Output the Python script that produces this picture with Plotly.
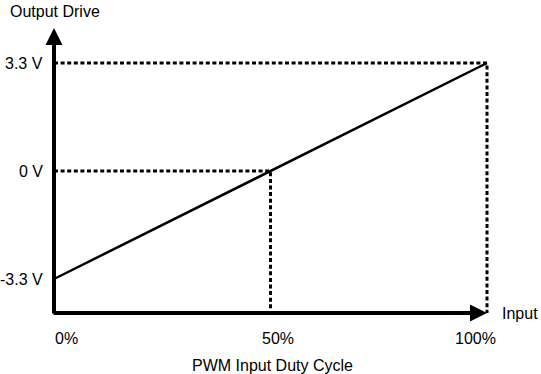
import plotly.graph_objects as go

# ---- data ----
duty_cycle = [0, 50, 100]          # PWM input duty cycle (%)
output_drive = [-3.3, 0, 3.3]      # output drive (V)
x_tick_labels = ["0%", "50%", "100%"]
y_tick_labels = ["-3.3 V", "0 V", "3.3 V"]

# ---- geometry (pixel canvas 541x374, margins 0) ----
W, H = 541, 374
X0_PX, X_SCALE = 54.0, 4.33      # pixel of duty 0, px per %
Y0_PX, Y_SCALE = 171.0, 32.727   # pixel of 0 V, px per volt

def px_to_x(px):
    return (px - X0_PX) / X_SCALE

def px_to_y(py):
    return (Y0_PX - py) / Y_SCALE

x_range = [px_to_x(0), px_to_x(W)]
y_range = [px_to_y(H), px_to_y(0)]
axis_bottom = px_to_y(313)   # where x-axis sits
axis_top = px_to_y(28)       # tip of y-axis arrow

FONT = "Liberation Sans, Arial, sans-serif"
INK = "#000000"

fig = go.Figure()

# dotted guide lines for the non-origin points
for d, v in zip(duty_cycle, output_drive):
    if d == 0:
        continue
    fig.add_trace(go.Scatter(
        x=[0, d, d], y=[v, v, axis_bottom],
        mode="lines",
        line=dict(color=INK, width=3, dash="4px,2.6px"),
        hoverinfo="skip", showlegend=False,
    ))

# transfer line
fig.add_trace(go.Scatter(
    x=duty_cycle, y=output_drive, mode="lines",
    line=dict(color=INK, width=2.5),
    hoverinfo="skip", showlegend=False,
))

annotations = []
# axes with arrowheads
annotations.append(dict(
    x=duty_cycle[-1], y=axis_bottom, ax=px_to_x(52), ay=axis_bottom,
    xref="x", yref="y", axref="x", ayref="y",
    showarrow=True, arrowhead=2, arrowsize=0.85, arrowwidth=4,
    arrowcolor=INK, text="", standoff=0, startstandoff=0,
))
annotations.append(dict(
    x=0, y=axis_top, ax=0, ay=px_to_y(315),
    xref="x", yref="y", axref="x", ayref="y",
    showarrow=True, arrowhead=2, arrowsize=0.85, arrowwidth=4,
    arrowcolor=INK, text="", standoff=0, startstandoff=0,
))

TXT = dict(showarrow=False, borderpad=0, borderwidth=0,
           font=dict(family=FONT, size=16, color=INK))

# y tick labels
for v, lab in zip(output_drive, y_tick_labels):
    annotations.append(dict(
        x=0, y=v, xref="x", yref="y", text=lab,
        xanchor="right", yanchor="middle", xshift=-11, yshift=0, **TXT,
    ))

# x tick labels
x_shifts = [12, 7, -12]
for d, lab, s in zip(duty_cycle, x_tick_labels, x_shifts):
    annotations.append(dict(
        x=d, y=axis_bottom, xref="x", yref="y", text=lab,
        xanchor="center", yanchor="middle", xshift=s, yshift=-25, **TXT,
    ))

# axis titles
annotations.append(dict(
    x=10 / W, y=1 - 11 / H, xref="paper", yref="paper", text="Output Drive",
    xanchor="left", yanchor="middle", **TXT,
))
annotations.append(dict(
    x=502 / W, y=1 - 313 / H, xref="paper", yref="paper", text="Input",
    xanchor="left", yanchor="middle", **TXT,
))
annotations.append(dict(
    x=272 / W, y=1 - 365 / H, xref="paper", yref="paper",
    text="PWM Input Duty Cycle",
    xanchor="center", yanchor="middle", **TXT,
))

fig.update_layout(
    width=W, height=H,
    margin=dict(l=0, r=0, t=0, b=0, pad=0),
    paper_bgcolor="white", plot_bgcolor="white",
    showlegend=False,
    xaxis=dict(range=x_range, visible=False, fixedrange=True),
    yaxis=dict(range=y_range, visible=False, fixedrange=True),
    annotations=annotations,
)

fig.write_html(
    "out.html",
    config={"displayModeBar": False},
    post_script="document.body.style.margin='0';document.body.style.overflow='hidden';",
)
